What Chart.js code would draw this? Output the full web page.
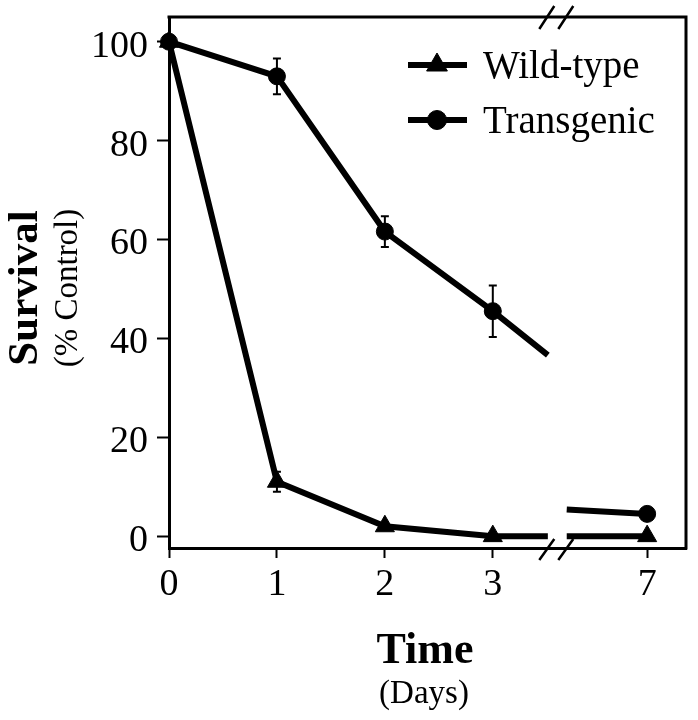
<!DOCTYPE html>
<html>
<head>
<meta charset="utf-8">
<title>Survival</title>
<script src="https://cdn.jsdelivr.net/npm/chart.js@4"></script>
<style>
    html, body { margin: 0; padding: 0; background: #fff; }
</style>
</head>
<body>
<canvas id="survivalChart" width="698" height="720"></canvas>
<script>
const days = [0, 1, 2, 3, 7];
const dayLabels = ['0', '1', '2', '3', '7'];
const yTicks = [0, 20, 40, 60, 80, 100];
const wildType = [100, 11, 2, 0, 0];
const wildTypeErr = [0, 2, 0, 0, 0];
const transgenic = [100, 93, 61.6, 45.5, 4.5];
const transgenicErr = [0, 3.6, 3.1, 5.2, 0];
// where each line stops on either side of the axis break
const wildTypeBreak = [0, 0];
const transgenicBreak = [36.6, 5.4];

// broken x axis: day 7 is drawn closer than its real distance
const tickPos = [0, 1, 2, 3, 4.43];
const breakFrom = 3.51;
const breakTo = 3.685;

const serif = "'Liberation Serif', 'Times New Roman', Times, serif";

function buildPoints(values, breakValues) {
    const pts = [];
    for (let i = 0; i < 4; i++) {
        pts.push({ x: tickPos[i], y: values[i] });
    }
    pts.push({ x: breakFrom, y: breakValues[0] });
    pts.push({ x: (breakFrom + breakTo) / 2, y: null });
    pts.push({ x: breakTo, y: breakValues[1] });
    pts.push({ x: tickPos[4], y: values[4] });
    return pts;
}

function markerSizes(r) {
    return [r, r, r, r, 0, 0, 0, r];
}

const extras = {
    id: 'extras',
    afterDatasetsDraw(chart) {
        const ctx = chart.ctx;
        const xs = chart.scales.x;
        const ys = chart.scales.y;
        const area = chart.chartArea;
        ctx.save();
        ctx.strokeStyle = '#000';
        ctx.fillStyle = '#000';

        // error bars
        ctx.lineWidth = 2;
        [[wildType, wildTypeErr], [transgenic, transgenicErr]].forEach(function (s) {
            s[0].forEach(function (v, i) {
                if (!s[1][i]) return;
                const px = xs.getPixelForValue(tickPos[i]);
                const top = ys.getPixelForValue(v + s[1][i]);
                const bot = ys.getPixelForValue(v - s[1][i]);
                ctx.beginPath();
                ctx.moveTo(px, top); ctx.lineTo(px, bot);
                ctx.moveTo(px - 4, top); ctx.lineTo(px + 4, top);
                ctx.moveTo(px - 4, bot); ctx.lineTo(px + 4, bot);
                ctx.stroke();
            });
        });

        // top and right side of the frame
        ctx.lineWidth = 3;
        ctx.beginPath();
        ctx.moveTo(area.left - 1.5, area.top);
        ctx.lineTo(area.right, area.top);
        ctx.lineTo(area.right, area.bottom + 1.5);
        ctx.stroke();

        // break marks on bottom axis and top frame
        const bx = xs.getPixelForValue((breakFrom + breakTo) / 2);
        ctx.lineWidth = 2.5;
        ctx.beginPath();
        [bx - 10.5, bx + 8.5].forEach(function (cx) {
            ctx.moveTo(cx - 7.5, area.bottom + 12);
            ctx.lineTo(cx + 7.5, area.bottom - 9);
            ctx.moveTo(cx - 7.5, area.top + 12);
            ctx.lineTo(cx + 7.5, area.top - 11);
        });
        ctx.stroke();
        ctx.restore();
    },
    afterDraw(chart) {
        const ctx = chart.ctx;
        ctx.save();
        ctx.fillStyle = '#000';
        ctx.strokeStyle = '#000';

        // legend: line with marker, then label
        const rows = [65, 120];
        chart.data.datasets.forEach(function (ds, i) {
            const y = rows[i];
            ctx.lineWidth = 6;
            ctx.beginPath();
            ctx.moveTo(408, y);
            ctx.lineTo(467, y);
            ctx.stroke();
            ctx.lineWidth = 1;
            Chart.helpers.drawPoint(ctx, {
                pointStyle: ds.pointStyle, radius: ds.pointRadius[0] + 1, borderWidth: 1, rotation: 0
            }, 437, y);
            ctx.font = '39px ' + serif;
            ctx.textAlign = 'left';
            ctx.textBaseline = 'alphabetic';
            ctx.fillText(ds.label, 483, y + 13);
        });

        // axis titles
        ctx.textAlign = 'center';
        ctx.textBaseline = 'alphabetic';
        ctx.font = 'bold 44px ' + serif;
        ctx.fillText('Time', 425, 663);
        ctx.font = '33px ' + serif;
        ctx.fillText('(Days)', 424, 703);

        ctx.save();
        ctx.translate(37, 288);
        ctx.rotate(-Math.PI / 2);
        ctx.font = 'bold 43px ' + serif;
        ctx.fillText('Survival', 0, 0);
        ctx.restore();

        ctx.save();
        ctx.translate(77, 288);
        ctx.rotate(-Math.PI / 2);
        ctx.font = '33px ' + serif;
        ctx.fillText('(% Control)', 0, 0);
        ctx.restore();

        ctx.restore();
    }
};

const ctx = document.getElementById('survivalChart');
new Chart(ctx, {
    type: 'line',
    data: {
        datasets: [{
            label: 'Wild-type',
            data: buildPoints(wildType, wildTypeBreak),
            borderColor: '#000',
            borderWidth: 6,
            pointStyle: 'triangle',
            pointRadius: markerSizes(11),
            pointHoverRadius: markerSizes(11),
            pointBackgroundColor: '#000',
            pointBorderColor: '#000',
            pointBorderWidth: 1,
            spanGaps: false,
            clip: false
        }, {
            label: 'Transgenic',
            data: buildPoints(transgenic, transgenicBreak),
            borderColor: '#000',
            borderWidth: 6,
            pointStyle: 'circle',
            pointRadius: markerSizes(8.5),
            pointHoverRadius: markerSizes(8.5),
            pointBackgroundColor: '#000',
            pointBorderColor: '#000',
            pointBorderWidth: 1,
            spanGaps: false,
            clip: false
        }]
    },
    options: {
        responsive: false,
        animation: false,
        events: [],
        layout: { padding: { top: 17, right: 7, left: 0, bottom: 0 } },
        plugins: {
            legend: { display: false },
            tooltip: { enabled: false }
        },
        scales: {
            x: {
                type: 'linear',
                min: 0,
                max: 4.79,
                afterBuildTicks: function (s) { s.ticks = tickPos.map(function (v) { return { value: v }; }); },
                afterFit: function (s) {
                    s.height = 172;
                    s.paddingLeft = 0;
                    s.paddingRight = 0;
                },
                grid: { drawOnChartArea: false, drawTicks: true, tickLength: 10, tickWidth: 2, tickColor: '#000' },
                border: { color: '#000', width: 3 },
                ticks: {
                    callback: function (v, i) { return dayLabels[i]; },
                    color: '#000',
                    font: { family: serif, size: 38 },
                    padding: 4,
                    maxRotation: 0,
                    autoSkip: false
                }
            },
            y: {
                type: 'linear',
                min: -2.4,
                max: 105,
                afterBuildTicks: function (s) { s.ticks = yTicks.map(function (v) { return { value: v }; }); },
                afterFit: function (s) {
                    s.width = 169;
                    s.paddingTop = 0;
                    s.paddingBottom = 0;
                },
                grid: { drawOnChartArea: false, drawTicks: true, tickLength: 12, tickWidth: 2, tickColor: '#000' },
                border: { color: '#000', width: 3 },
                ticks: {
                    color: '#000',
                    font: { family: serif, size: 38 },
                    padding: 9,
                    labelOffset: 5,
                    autoSkip: false
                }
            }
        }
    },
    plugins: [extras]
});
</script>
</body>
</html>
